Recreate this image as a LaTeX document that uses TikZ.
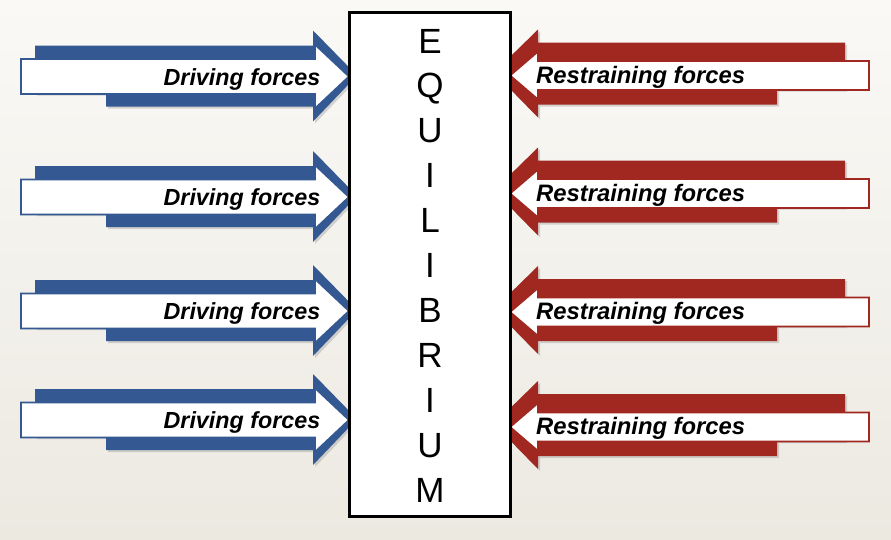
\documentclass[tikz,border=0pt]{standalone}
\usepackage{fontspec}
\setmainfont{Liberation Sans}
\usetikzlibrary{shadows}
\definecolor{dblue}{RGB}{52,88,145}
\definecolor{dred}{RGB}{160,40,32}
\definecolor{bgtop}{RGB}{250,249,246}
\definecolor{bgbot}{RGB}{236,233,225}
\tikzset{
  dshadow/.style={drop shadow={opacity=0.3,shadow xshift=2pt,shadow yshift=-2pt}},
  bluebody/.style={fill=dblue,dshadow},
  redbody/.style={fill=dred,dshadow},
  whiteblue/.style={draw=dblue,line width=1.8pt,fill=white},
  whitered/.style={draw=dred,line width=1.8pt,fill=white},
  lbl/.style={inner sep=0pt,font=\fontsize{23.3}{23.3}\selectfont\bfseries\itshape},
  rlbl/.style={inner sep=0pt,font=\fontsize{23.8}{23.8}\selectfont\bfseries\itshape},
  letter/.style={inner sep=0pt,anchor=base,font=\fontsize{35}{35}\selectfont},
  eqbox/.style={draw=black,line width=3pt,fill=white,minimum width=161pt,minimum height=504pt,inner sep=0pt}
}
\newcommand\drivearrow[2]{%
  \fill[bluebody] (35,#1-31) -- (313,#1-31) -- (313,#1-46) -- (357,#1-1) -- (313,#1+45) -- (313,#1+30) -- (106,#1+30) -- (106,#1+17) -- (35,#1+17) -- cycle;
  \draw[whiteblue] (21,#1-17.5) -- (315,#1-17.5) -- (315,#1-32) -- (349,#1) -- (315,#1+32) -- (315,#1+17.5) -- (21,#1+17.5) -- cycle;
  \node[lbl,anchor=base east] (#2) at (320.5,#1+8.5) {Driving forces};
}
\newcommand\restrainarrow[2]{%
  \fill[redbody] (845,#1-33) -- (538,#1-33) -- (538,#1-46) -- (494,#1-3) -- (538,#1+42) -- (538,#1+29) -- (777,#1+29) -- (777,#1+14) -- (845,#1+14) -- cycle;
  \draw[whitered] (869,#1-14.5) -- (538,#1-14.5) -- (538,#1-24) -- (510,#1) -- (538,#1+24) -- (538,#1+14.5) -- (869,#1+14.5) -- cycle;
  \node[rlbl,anchor=base west] (#2) at (536,#1+7.5) {Restraining forces};
}
\begin{document}
\begin{tikzpicture}[x=1pt,y=-1pt]
\shade[top color=bgtop,bottom color=bgbot] (0,0) rectangle (891,539);
\useasboundingbox (0,0) rectangle (891,539);
\drivearrow{76.5}{d1}
\drivearrow{197}{d2}
\drivearrow{311}{d3}
\drivearrow{420}{d4}
\restrainarrow{75.5}{r1}
\restrainarrow{193.5}{r2}
\restrainarrow{312}{r3}
\restrainarrow{427}{r4}
\node[eqbox] (eq) at (430.25,264) {};
\foreach \ch [count=\i from 0] in {E,Q,U,I,L,I,B,R,I,U,M}{
  \node[letter] (l\i) at (430,53+44.9*\i) {\ch};
}
\end{tikzpicture}
\end{document}
